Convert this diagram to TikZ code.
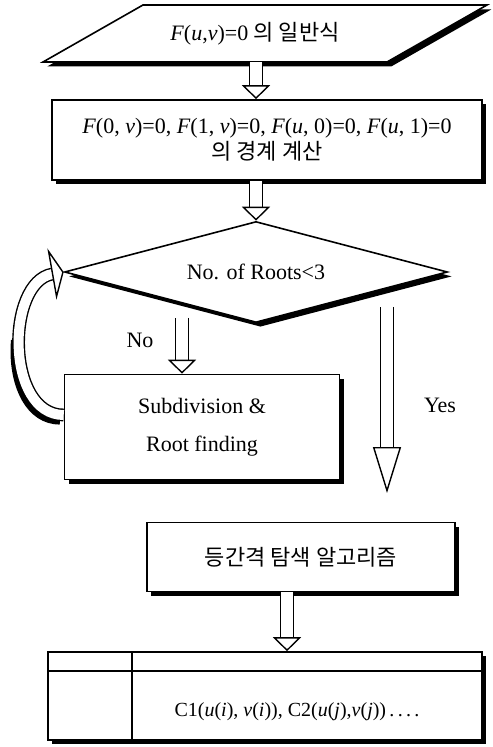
\documentclass[tikz,border=0pt]{standalone}
\usepackage{fontspec}
\setmainfont{Liberation Serif}
\newfontfamily\kr{Noto Sans CJK KR}
\usetikzlibrary{arrows.meta,positioning,calc,shapes.geometric,shadows}
\tikzset{
  % rutor
  fshad/.style={drop shadow={shadow xshift=2.2pt,shadow yshift=-2.2pt,fill=black,opacity=1}},
  fbox/.style={draw,line width=0.8pt,fill=white,inner sep=2pt,align=center,
               font=\fontsize{11}{13}\selectfont,fshad},
  fdec/.style={fbox,diamond,aspect=3.8},
  ftxt/.style={inner sep=2pt,align=center,font=\fontsize{11}{13}\selectfont},
  % pilar
  harr/.style={draw,line width=0.7pt,double=white,double distance=6pt,
               -{Triangle[open,fill=white,length=#1,width=14pt]}},
  harr/.default=7pt,
  larr/.style={draw,line width=0.7pt,double=white,double distance=5pt,
               -{Triangle[open,fill=white,length=6pt,width=26pt]}},
  lshad/.style={draw=black,line width=6pt,dash pattern=on 50pt off 200pt,
                transform canvas={xshift=-1.8pt,yshift=-1.8pt}},
  lbl/.style={font=\fontsize{11}{13}\selectfont,inner sep=1pt},
}
\begin{document}
\begin{tikzpicture}[x=0.5pt,y=-0.5pt]
  \useasboundingbox (0,0) rectangle (492,747);
  % indata
  \draw[line width=0.8pt,fill=white,fshad] (43,62) -- (143,5) -- (487,5) -- (387,62) -- cycle;
  \node[ftxt,minimum height=28.5pt] (in) at (255,33.5)
    {\textit{F}(\textit{u},\textit{v})=0 {\kr 의 일반식}};
  \node[fbox,minimum width=215pt,minimum height=40pt] (bnd) at (267,140)
    {\textit{F}(0, \textit{v})=0, \textit{F}(1, \textit{v})=0, \textit{F}(\textit{u}, 0)=0, \textit{F}(\textit{u}, 1)=0\\{\kr 의 경계 계산}};
  \node[fdec,minimum width=191.5pt,minimum height=50.5pt] (dec) at (256,272) {No. of Roots<3};
  \node[fbox,minimum width=137.5pt,minimum height=52.5pt] (sub) at (202,427)
    {Subdivision \&\\[6pt]Root finding};
  \node[fbox,minimum width=154pt,minimum height=34.5pt] (eq) at (301,557)
    {\kr 등간격 탐색 알고리즘};
  \node[fbox,minimum width=217pt,minimum height=44pt] (tab) at (265,696) {};
  \draw[line width=0.8pt] ([yshift=-10pt]tab.north west) -- ([yshift=-10pt]tab.north east);
  \draw[line width=0.8pt] ([xshift=42.5pt]tab.north west) -- ([xshift=42.5pt]tab.south west);
  \node[lbl,font=\fontsize{10}{12}\selectfont] (res) at (297,712)
    {C1(\textit{u}(\textit{i}), \textit{v}(\textit{i})), C2(\textit{u}(\textit{j}),\textit{v}(\textit{j}))\,.\,.\,.\,.};
  \node[lbl] (no) at (140,340) {No};
  \node[lbl] (yes) at (440,405) {Yes};
  \coordinate (nos) at (182,318);
  \coordinate (ys) at (387,307);
  \coordinate (ye) at (387,493);
  \coordinate (ex) at (287,0);
  \draw[harr] (in.south -| dec.north) -- (bnd.north -| dec.north);
  \draw[harr] (bnd.south -| dec.north) -- (dec.north);
  \draw[harr] (nos) -- (nos |- sub.north);
  \draw[harr=23pt] (ys) -- (ye);
  \draw[harr] (eq.south -| ex) -- (tab.north -| ex);
  % lus
  \draw[lshad] ([yshift=6pt]sub.west) to[out=180,in=190,looseness=1.05] (dec.west);
  \draw[larr] ([yshift=6pt]sub.west) to[out=180,in=190,looseness=1.05] (dec.west);
\end{tikzpicture}
\end{document}
